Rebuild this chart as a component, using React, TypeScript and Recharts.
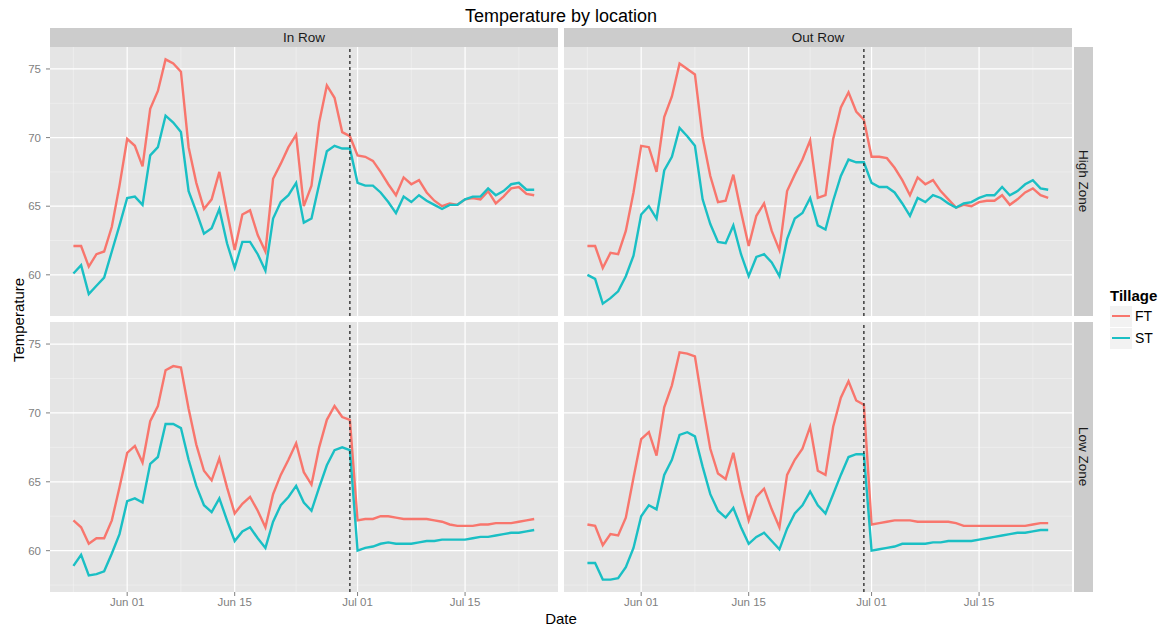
import React from 'react';
import { LineChart, Line, XAxis, YAxis, CartesianGrid, ReferenceLine } from 'recharts';

// days counted from Jun 01 (0 = Jun 01)
const days = [
  -7, -6, -5, -4, -3, -2, -1,
  0, 1, 2, 3, 4, 5, 6, 7, 8, 9,
  10, 11, 12, 13, 14, 15, 16, 17, 18, 19,
  20, 21, 22, 23, 24, 25, 26, 27, 28, 29,
  30, 31, 32, 33, 34, 35, 36, 37, 38, 39,
  40, 41, 42, 43, 44, 45, 46, 47, 48, 49,
  50, 51, 52, 53,
];

const tickDays = [0, 14, 30, 44];
const tickLabels = ['Jun 01', 'Jun 15', 'Jul 01', 'Jul 15'];
const minorDays = [-7, 7, 22, 37, 51];
const yTicks = [60, 65, 70, 75];
const yMinor = [57.5, 62.5, 67.5, 72.5];
const cutoffDay = 29;

const inRowHighFT = [
  62.1, 62.1, 60.6, 61.5, 61.7, 63.5, 66.5,
  69.9, 69.4, 67.9, 72.1, 73.4, 75.7, 75.4, 74.8, 69.3, 66.7,
  64.8, 65.5, 67.5, 64.6, 61.8, 64.4, 64.7, 62.9, 61.7, 67.0,
  68.1, 69.3, 70.2, 65.0, 66.5, 71.1, 73.8, 72.9, 70.4, 70.1,
  68.7, 68.6, 68.3, 67.5, 66.6, 65.8, 67.1, 66.6, 66.9, 66.0,
  65.4, 65.0, 65.2, 65.1, 65.5, 65.6, 65.5, 66.1, 65.2, 65.7,
  66.3, 66.4, 65.9, 65.8,
];
const inRowHighST = [
  60.1, 60.7, 58.6, 59.2, 59.8, 61.7, 63.6,
  65.6, 65.7, 65.1, 68.7, 69.3, 71.6, 71.1, 70.4, 66.1, 64.6,
  63.0, 63.4, 64.8, 62.3, 60.5, 62.4, 62.4, 61.5, 60.3, 64.1,
  65.3, 65.8, 66.7, 63.8, 64.1, 66.6, 69.0, 69.4, 69.2, 69.2,
  66.7, 66.5, 66.5, 66.0, 65.3, 64.5, 65.7, 65.3, 65.8, 65.4,
  65.1, 64.8, 65.1, 65.1, 65.5, 65.7, 65.7, 66.3, 65.8, 66.1,
  66.6, 66.7, 66.2, 66.2,
];
const outRowHighFT = [
  62.1, 62.1, 60.5, 61.6, 61.5, 63.2, 66.0,
  69.4, 69.3, 67.5, 71.5, 73.0, 75.4, 75.0, 74.6, 70.0, 67.2,
  65.3, 65.4, 67.3, 64.6, 62.1, 64.3, 65.2, 63.2, 61.8, 66.1,
  67.3, 68.4, 69.8, 65.6, 65.8, 69.9, 72.2, 73.3, 71.9, 71.3,
  68.6, 68.6, 68.5, 67.8, 66.9, 65.8, 67.1, 66.6, 66.9, 66.1,
  65.5, 64.9, 65.1, 65.0, 65.3, 65.4, 65.4, 65.8, 65.1, 65.5,
  66.0, 66.3, 65.8, 65.6,
];
const outRowHighST = [
  60.0, 59.7, 57.9, 58.3, 58.8, 59.9, 61.4,
  64.4, 65.0, 64.1, 67.6, 68.6, 70.7, 70.1, 69.4, 65.5, 63.7,
  62.4, 62.3, 63.6, 61.5, 59.9, 61.3, 61.5, 60.9, 59.9, 62.6,
  64.1, 64.5, 65.6, 63.6, 63.3, 65.4, 67.2, 68.4, 68.2, 68.2,
  66.7, 66.4, 66.4, 66.0, 65.2, 64.3, 65.6, 65.3, 65.8, 65.6,
  65.2, 64.9, 65.2, 65.3, 65.6, 65.8, 65.8, 66.4, 65.8, 66.1,
  66.6, 66.9, 66.3, 66.2,
];
const inRowLowFT = [
  62.2, 61.7, 60.5, 60.9, 60.9, 62.2, 64.6,
  67.1, 67.6, 66.4, 69.4, 70.5, 73.1, 73.4, 73.3, 70.3, 67.7,
  65.8, 65.1, 66.7, 64.6, 62.7, 63.4, 63.9, 62.9, 61.7, 64.1,
  65.5, 66.6, 67.8, 65.7, 64.8, 67.5, 69.5, 70.5, 69.7, 69.5,
  62.2, 62.3, 62.3, 62.5, 62.5, 62.4, 62.3, 62.3, 62.3, 62.3,
  62.2, 62.1, 61.9, 61.8, 61.8, 61.8, 61.9, 61.9, 62.0, 62.0,
  62.0, 62.1, 62.2, 62.3,
];
const inRowLowST = [
  58.9, 59.7, 58.2, 58.3, 58.5, 59.8, 61.2,
  63.6, 63.8, 63.5, 66.3, 66.8, 69.2, 69.2, 68.9, 66.6, 64.7,
  63.3, 62.8, 63.8, 62.2, 60.7, 61.4, 61.7, 60.9, 60.2, 62.1,
  63.3, 63.9, 64.7, 63.5, 62.9, 64.6, 66.2, 67.3, 67.5, 67.3,
  60.0, 60.2, 60.3, 60.5, 60.6, 60.5, 60.5, 60.5, 60.6, 60.7,
  60.7, 60.8, 60.8, 60.8, 60.8, 60.9, 61.0, 61.0, 61.1, 61.2,
  61.3, 61.3, 61.4, 61.5,
];
const outRowLowFT = [
  61.9, 61.8, 60.4, 61.2, 61.1, 62.4, 65.3,
  68.1, 68.6, 66.9, 70.4, 72.0, 74.4, 74.3, 74.1, 70.6, 67.4,
  65.6, 65.2, 67.1, 64.4, 62.2, 63.9, 64.5, 63.0, 61.7, 65.5,
  66.6, 67.4, 69.0, 65.8, 65.5, 69.0, 71.1, 72.3, 70.9, 70.6,
  61.9, 62.0, 62.1, 62.2, 62.2, 62.2, 62.1, 62.1, 62.1, 62.1,
  62.1, 62.0, 61.8, 61.8, 61.8, 61.8, 61.8, 61.8, 61.8, 61.8,
  61.8, 61.9, 62.0, 62.0,
];
const outRowLowST = [
  59.1, 59.1, 57.9, 57.9, 58.0, 58.8, 60.2,
  62.5, 63.3, 63.0, 65.5, 66.6, 68.4, 68.6, 68.3, 66.1, 64.1,
  62.9, 62.4, 63.1, 61.7, 60.5, 61.0, 61.3, 60.7, 60.1, 61.6,
  62.7, 63.3, 64.3, 63.3, 62.7, 64.1, 65.5, 66.8, 67.0, 67.0,
  60.0, 60.1, 60.2, 60.3, 60.5, 60.5, 60.5, 60.5, 60.6, 60.6,
  60.7, 60.7, 60.7, 60.7, 60.8, 60.9, 61.0, 61.1, 61.2, 61.3,
  61.3, 61.4, 61.5, 61.5,
];

const FT_COLOR = '#F8766D';
const ST_COLOR = '#1ABFC4';
const FONT = '"Liberation Sans", Arial, Helvetica, sans-serif';

const PLOT_W = 508;
const Y_AXIS_W = 50;
const X_AXIS_H = 30;

const toRows = (ft: number[], st: number[]) =>
  days.map((d, i) => ({ day: d, FT: ft[i], ST: st[i] }));

function Panel({ ft, st, left, top, height, showY, showX }: any) {
  const data = toRows(ft, st);
  const w = PLOT_W + (showY ? Y_AXIS_W : 0);
  const h = height + (showX ? X_AXIS_H : 0);
  return (
    <div style={{ position: 'absolute', left: showY ? left - Y_AXIS_W : left, top }}>
      <LineChart width={w} height={h} data={data} margin={{ top: 0, right: 0, bottom: 0, left: 0 }}>
        <CartesianGrid
          fill="#E5E5E5"
          stroke="#F2F2F2"
          strokeWidth={0.6}
          horizontalValues={yMinor}
          verticalValues={minorDays}
        />
        <CartesianGrid
          stroke="#FFFFFF"
          strokeWidth={1.2}
          horizontalValues={yTicks}
          verticalValues={tickDays}
        />
        <XAxis
          dataKey="day"
          type="number"
          domain={[-10.05, 56.1]}
          ticks={tickDays}
          tickFormatter={(v: number) => tickLabels[tickDays.indexOf(v)]}
          hide={!showX}
          height={X_AXIS_H}
          axisLine={false}
          tickSize={4}
          tickLine={{ stroke: '#7F7F7F' }}
          tick={{ fill: '#7F7F7F', fontSize: 11.5, fontFamily: FONT }}
          allowDataOverflow
        />
        <YAxis
          type="number"
          domain={[57, 76.6]}
          ticks={yTicks}
          hide={!showY}
          width={Y_AXIS_W}
          axisLine={false}
          tickSize={4}
          tickMargin={5}
          tickLine={{ stroke: '#7F7F7F' }}
          tick={{ fill: '#7F7F7F', fontSize: 11.5, fontFamily: FONT }}
          allowDataOverflow
        />
        <Line type="linear" dataKey="FT" stroke={FT_COLOR} strokeWidth={2.4} dot={false} isAnimationActive={false} />
        <Line type="linear" dataKey="ST" stroke={ST_COLOR} strokeWidth={2.4} dot={false} isAnimationActive={false} />
        <ReferenceLine x={cutoffDay} stroke="#222" strokeDasharray="3 3" strokeWidth={1.3} />
      </LineChart>
    </div>
  );
}

const stripTop: React.CSSProperties = {
  position: 'absolute',
  background: '#CCCCCC',
  color: '#1A1A1A',
  fontSize: 13.5,
  textAlign: 'center',
  lineHeight: '19px',
  height: 19,
};

const stripRight: React.CSSProperties = {
  position: 'absolute',
  background: '#CCCCCC',
  color: '#1A1A1A',
  fontSize: 13.5,
  width: 19,
  display: 'flex',
  alignItems: 'center',
  justifyContent: 'center',
  writingMode: 'vertical-rl',
};

export default function App() {
  const L1 = 50, L2 = 564, T1 = 47, T2 = 322, H1 = 269, H2 = 270;
  return (
    <div style={{ position: 'absolute', left: 0, top: 0, width: 1173, height: 630, background: '#fff', fontFamily: FONT, overflow: 'hidden' }}>
      <div style={{ position: 'absolute', left: L1, width: L2 + PLOT_W - L1, top: 6, textAlign: 'center', fontSize: 18, color: '#000' }}>
        Temperature by location
      </div>

      <div style={{ ...stripTop, left: L1, top: 28, width: PLOT_W }}>In Row</div>
      <div style={{ ...stripTop, left: L2, top: 28, width: PLOT_W }}>Out Row</div>
      <div style={{ ...stripRight, left: 1074, top: T1, height: H1 }}>High Zone</div>
      <div style={{ ...stripRight, left: 1074, top: T2, height: H2 }}>Low Zone</div>

      <Panel ft={inRowHighFT} st={inRowHighST} left={L1} top={T1} height={H1} showY showX={false} />
      <Panel ft={outRowHighFT} st={outRowHighST} left={L2} top={T1} height={H1} showY={false} showX={false} />
      <Panel ft={inRowLowFT} st={inRowLowST} left={L1} top={T2} height={H2} showY showX />
      <Panel ft={outRowLowFT} st={outRowLowST} left={L2} top={T2} height={H2} showY={false} showX />

      <div style={{ position: 'absolute', left: L1, width: L2 + PLOT_W - L1, top: 610, textAlign: 'center', fontSize: 15, color: '#000' }}>
        Date
      </div>
      <div style={{ position: 'absolute', left: 18, top: 320, transform: 'translate(-50%, -50%) rotate(-90deg)', fontSize: 15, color: '#000', whiteSpace: 'nowrap' }}>
        Temperature
      </div>

      <div style={{ position: 'absolute', left: 1110, top: 287, color: '#000' }}>
        <div style={{ fontSize: 15, fontWeight: 'bold', lineHeight: '18px' }}>Tillage</div>
        {[['FT', FT_COLOR], ['ST', ST_COLOR]].map(([name, color]) => (
          <div key={name} style={{ display: 'flex', alignItems: 'center', height: 22 }}>
            <div style={{ width: 22, height: 21, background: '#F2F2F2', display: 'flex', alignItems: 'center', justifyContent: 'center' }}>
              <div style={{ width: 18, height: 2.4, background: color }} />
            </div>
            <span style={{ fontSize: 14, marginLeft: 3 }}>{name}</span>
          </div>
        ))}
      </div>
    </div>
  );
}
